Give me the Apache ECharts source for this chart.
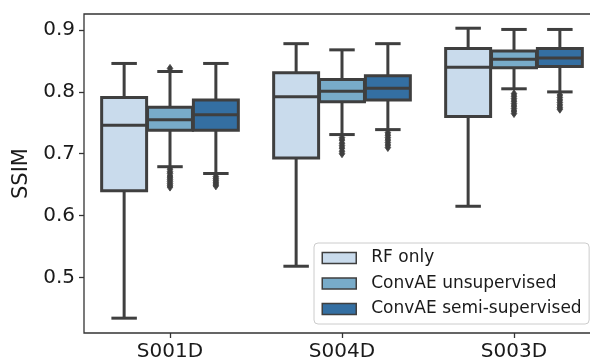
<!DOCTYPE html>
<html>
<head>
<meta charset="utf-8">
<script src="https://cdn.jsdelivr.net/npm/echarts@6/dist/echarts.min.js"></script>
<style>
  html, body { margin: 0; padding: 0; background: #ffffff; }
  #chart { width: 590px; height: 360px; }
</style>
</head>
<body>
<div id="chart"></div>
<script>
// Sites on the x axis and the three reconstruction methods (hue)
const categories = ['S001D', 'S004D', 'S003D'];
const methods = ['RF only', 'ConvAE unsupervised', 'ConvAE semi-supervised'];

// Box statistics per site: [lower whisker, Q1, median, Q3, upper whisker]
const rfOnlyStats = [
  [0.434, 0.640, 0.746, 0.791, 0.846],
  [0.518, 0.693, 0.792, 0.831, 0.878],
  [0.615, 0.760, 0.840, 0.870, 0.903]
];
const convUnsupStats = [
  [0.679, 0.738, 0.755, 0.775, 0.833],
  [0.731, 0.784, 0.801, 0.820, 0.868],
  [0.805, 0.839, 0.853, 0.866, 0.901]
];
const convSemiStats = [
  [0.668, 0.738, 0.763, 0.787, 0.846],
  [0.739, 0.787, 0.806, 0.826, 0.878],
  [0.800, 0.841, 0.855, 0.870, 0.901]
];

// Outlying SSIM values per site
const rfOnlyOutliers = [[], [], []];
const convUnsupOutliers = [
  [0.838, 0.675, 0.671, 0.668, 0.664, 0.661, 0.658, 0.655, 0.652, 0.649, 0.646],
  [0.726, 0.722, 0.717, 0.713, 0.709, 0.704, 0.700],
  [0.797, 0.793, 0.789, 0.785, 0.781, 0.777, 0.773, 0.769, 0.765]
];
const convSemiOutliers = [
  [0.663, 0.660, 0.657, 0.654, 0.651, 0.648],
  [0.734, 0.730, 0.726, 0.722, 0.718, 0.714, 0.710],
  [0.795, 0.791, 0.787, 0.783, 0.779, 0.775, 0.772]
];

const yTicks = [0.5, 0.6, 0.7, 0.8, 0.9];

const boxColors = ['#c9dbec', '#78abc9', '#346fa2'];
const edgeColor = '#3f3f3f';
const fontFamily = 'DejaVu Sans';

const allStats = [rfOnlyStats, convUnsupStats, convSemiStats];
const allOutliers = [rfOnlyOutliers, convUnsupOutliers, convSemiOutliers];

// Horizontal centre of a hue's box inside its category band
function hueCenter(api, cat, hue) {
  const band = api.size([1, 0])[0];
  const slot = band * 0.8 / methods.length;
  return {
    x: api.coord([cat, yTicks[0]])[0] + (hue - (methods.length - 1) / 2) * slot,
    width: slot * 0.98
  };
}

function boxRenderer(hue) {
  return function (params, api) {
    const cat = api.value(0);
    const c = hueCenter(api, cat, hue);
    const cx = c.x, w = c.width;
    const y = i => api.coord([cat, api.value(i)])[1];
    const lo = y(1), q1 = y(2), med = y(3), q3 = y(4), hi = y(5);
    const line = { stroke: edgeColor, lineWidth: 3, lineCap: 'butt' };
    const cap = { stroke: edgeColor, lineWidth: 3, lineCap: 'square' };
    return {
      type: 'group',
      children: [
        { type: 'line', shape: { x1: cx, y1: q1, x2: cx, y2: lo }, style: line },
        { type: 'line', shape: { x1: cx, y1: q3, x2: cx, y2: hi }, style: line },
        { type: 'line', shape: { x1: cx - w / 4, y1: lo, x2: cx + w / 4, y2: lo }, style: cap },
        { type: 'line', shape: { x1: cx - w / 4, y1: hi, x2: cx + w / 4, y2: hi }, style: cap },
        { type: 'rect', shape: { x: cx - w / 2, y: q3, width: w, height: q1 - q3 },
          style: { fill: boxColors[hue], stroke: edgeColor, lineWidth: 3 } },
        { type: 'line', shape: { x1: cx - w / 2, y1: med, x2: cx + w / 2, y2: med }, style: line }
      ]
    };
  };
}

function outlierRenderer(hue) {
  return function (params, api) {
    const cat = api.value(0);
    const cx = hueCenter(api, cat, hue).x;
    const cy = api.coord([cat, api.value(1)])[1];
    const hw = 2.8, hh = 4;
    return {
      type: 'polygon',
      shape: { points: [[cx, cy - hh], [cx + hw, cy], [cx, cy + hh], [cx - hw, cy]] },
      style: { fill: edgeColor, stroke: edgeColor, lineWidth: 0.8 }
    };
  };
}

const series = [];
methods.forEach((name, hue) => {
  series.push({
    name: name,
    type: 'custom',
    renderItem: boxRenderer(hue),
    itemStyle: { color: boxColors[hue] },
    encode: { x: 0, y: [1, 2, 3, 4, 5] },
    data: allStats[hue].map((s, i) => [i].concat(s)),
    z: 2
  });
});
methods.forEach((name, hue) => {
  const pts = [];
  allOutliers[hue].forEach((vals, i) => vals.forEach(v => pts.push([i, v])));
  series.push({
    name: name,
    type: 'custom',
    renderItem: outlierRenderer(hue),
    itemStyle: { color: boxColors[hue] },
    encode: { x: 0, y: 1 },
    data: pts,
    z: 3
  });
});

const chart = echarts.init(document.getElementById('chart'), null, { renderer: 'canvas' });
chart.setOption({
  animation: false,
  backgroundColor: '#ffffff',
  grid: {
    left: 84, right: -10, top: 14, bottom: 27,
    containLabel: false,
    outerBoundsMode: 'none',
    show: true, borderColor: '#333333', borderWidth: 1.3,
    backgroundColor: 'transparent'
  },
  legend: {
    data: methods,
    orient: 'vertical',
    left: 314, top: 243,
    icon: 'rect',
    itemWidth: 34, itemHeight: 11,
    itemGap: 8.5,
    padding: [6.5, 7.5],
    backgroundColor: 'rgba(255,255,255,0.8)',
    borderColor: '#cccccc', borderWidth: 1, borderRadius: 4,
    itemStyle: { borderColor: edgeColor, borderWidth: 1.5 },
    textStyle: { fontFamily: fontFamily, fontSize: 17, lineHeight: 17, color: '#1a1a1a', padding: [0, 0, 0, 10] },
    selectedMode: false
  },
  xAxis: {
    type: 'category',
    data: categories,
    boundaryGap: true,
    axisLine: { show: false },
    axisTick: { show: true, alignWithLabel: true, length: 5, lineStyle: { color: '#333333', width: 1.3 } },
    axisLabel: { fontFamily: fontFamily, fontSize: 20, color: '#1a1a1a', margin: 9 },
    splitLine: { show: false }
  },
  yAxis: {
    type: 'value',
    min: 0.41, max: 0.926,
    name: 'SSIM',
    nameLocation: 'middle',
    nameRotate: 90,
    nameGap: 49,
    nameTextStyle: { fontFamily: fontFamily, fontSize: 21, lineHeight: 21, color: '#1a1a1a' },
    axisLine: { show: false },
    axisTick: { show: true, length: 5, customValues: yTicks, lineStyle: { color: '#333333', width: 1.3 } },
    axisLabel: { fontFamily: fontFamily, fontSize: 20, color: '#1a1a1a', margin: 9, customValues: yTicks,
                 formatter: v => v.toFixed(1) },
    splitLine: { show: false }
  },
  series: series
});
</script>
</body>
</html>
